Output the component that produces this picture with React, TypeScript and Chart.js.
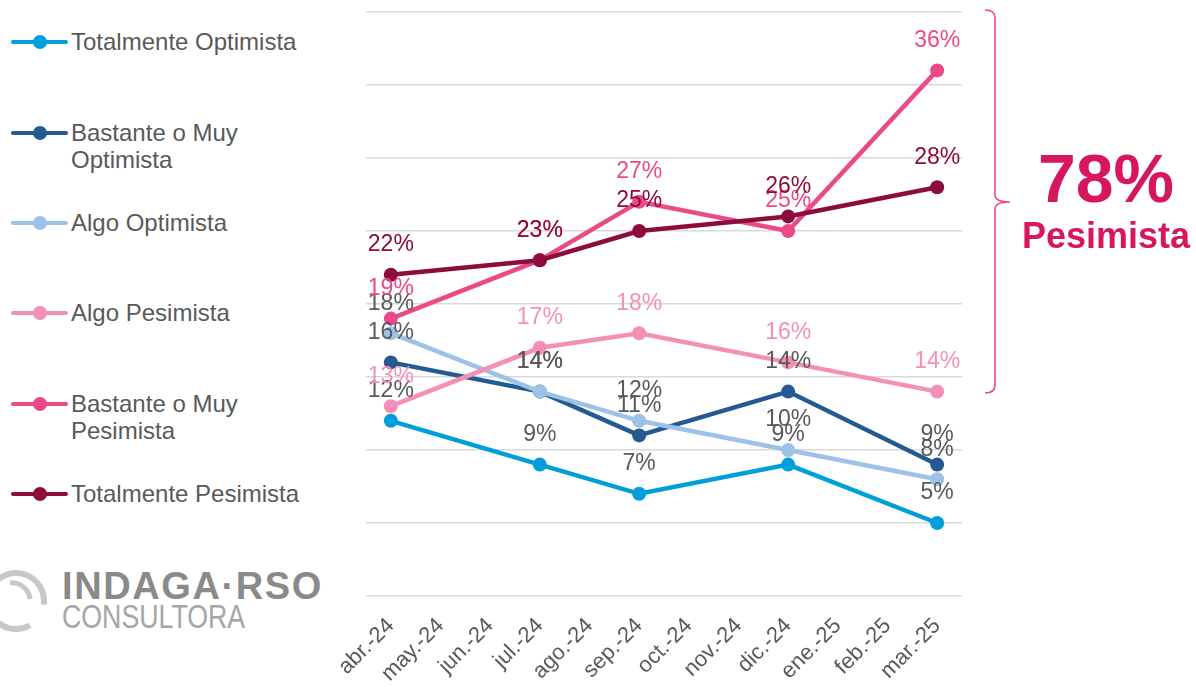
import React, { useEffect, useRef } from "react";
import { Chart, registerables } from "chart.js";

Chart.register(...registerables);

const months = ["abr.-24", "may.-24", "jun.-24", "jul.-24", "ago.-24", "sep.-24", "oct.-24", "nov.-24", "dic.-24", "ene.-25", "feb.-25", "mar.-25"];

const totalmenteOptimista = [12, null, null, 9, null, 7, null, null, 9, null, null, 5];
const bastanteOptimista = [16, null, null, 14, null, 11, null, null, 14, null, null, 9];
const algoOptimista = [18, null, null, 14, null, 12, null, null, 10, null, null, 8];
const algoPesimista = [13, null, null, 17, null, 18, null, null, 16, null, null, 14];
const bastantePesimista = [19, null, null, 23, null, 27, null, null, 25, null, null, 36];
const totalmentePesimista = [22, null, null, 23, null, 25, null, null, 26, null, null, 28];

const seriesNames = ["Totalmente Optimista", "Bastante o Muy Optimista", "Algo Optimista", "Algo Pesimista", "Bastante o Muy Pesimista", "Totalmente Pesimista"];
const seriesColors = ["#009fdb", "#245a91", "#9cc2e8", "#f490b7", "#ec4988", "#8c0c3d"];
const labelColors = ["#595959", "#595959", "#595959", "#f490b7", "#ec4988", "#8c0c3d"];
const seriesData = [totalmenteOptimista, bastanteOptimista, algoOptimista, algoPesimista, bastantePesimista, totalmentePesimista];

const legendLines = [["Totalmente Optimista"], ["Bastante o Muy", "Optimista"], ["Algo Optimista"], ["Algo Pesimista"], ["Bastante o Muy", "Pesimista"], ["Totalmente Pesimista"]];
const legendY = [42, 133, 223, 313, 404, 494];

const FONT = "'Liberation Sans', Arial, sans-serif";

const labelPlugin = {
  id: "pointLabels",
  afterDatasetsDraw(chart: any) {
    const ctx = chart.ctx;
    ctx.save();
    ctx.font = `23px ${FONT}`;
    ctx.textAlign = "center";
    ctx.textBaseline = "middle";
    chart.data.datasets.forEach((ds: any, i: number) => {
      const meta = chart.getDatasetMeta(i);
      meta.data.forEach((pt: any, j: number) => {
        const v = ds.data[j];
        if (v === null || v === undefined) return;
        ctx.fillStyle = labelColors[i];
        ctx.fillText(`${v}%`, pt.x, pt.y - 30);
      });
    });
    ctx.restore();
  },
};

function LegendItem({ idx }: { idx: number }) {
  const lines = legendLines[idx];
  return (
    <div style={{ position: "absolute", left: 0, top: legendY[idx] - 14, height: 60 }}>
      <svg width={70} height={28} style={{ position: "absolute", left: 0, top: 0 }}>
        <line x1={13} y1={14} x2={66} y2={14} stroke={seriesColors[idx]} strokeWidth={4} strokeLinecap="round" />
        <circle cx={40} cy={14} r={7} fill={seriesColors[idx]} />
      </svg>
      <div style={{ position: "absolute", left: 71, top: 0, fontFamily: FONT, fontSize: 24, lineHeight: "27px", color: "#595959", whiteSpace: "nowrap" }}>
        {lines.map((l, k) => (
          <div key={k}>{l}</div>
        ))}
      </div>
    </div>
  );
}

export default function App() {
  const canvasRef = useRef<HTMLCanvasElement>(null);

  useEffect(() => {
    if (!canvasRef.current) return;
    const chart = new Chart(canvasRef.current, {
      type: "line",
      data: {
        labels: months,
        datasets: seriesNames.map((name, i) => ({
          label: name,
          data: seriesData[i],
          borderColor: seriesColors[i],
          backgroundColor: seriesColors[i],
          borderWidth: 4.5,
          pointRadius: 7,
          pointHoverRadius: 7,
          pointBorderWidth: 0,
          spanGaps: true,
          tension: 0,
          order: 6 - i,
        })),
      },
      options: {
        animation: false,
        responsive: false,
        maintainAspectRatio: false,
        layout: { padding: { left: 26, right: 18, top: 12, bottom: 0 } },
        plugins: { legend: { display: false }, tooltip: { enabled: false } },
        scales: {
          x: {
            offset: true,
            grid: { display: false },
            border: { display: false },
            afterFit: (axis: any) => {
              axis.height = 91;
              axis.paddingLeft = 0;
              axis.paddingRight = 0;
            },
            ticks: {
              autoSkip: false,
              minRotation: 45,
              maxRotation: 45,
              color: "#595959",
              font: { family: FONT, size: 22 },
              padding: 9,
            },
          },
          y: {
            min: 0,
            max: 40,
            border: { display: false },
            grid: { color: "#d9d9d9", lineWidth: 1.5, drawTicks: false },
            ticks: { display: false, stepSize: 5 },
          },
        },
      },
      plugins: [labelPlugin],
    });
    return () => chart.destroy();
  }, []);

  return (
    <div style={{ position: "absolute", left: 0, top: 0, width: 1196, height: 687, background: "#fff", overflow: "hidden" }}>
      {legendY.map((_, i) => (
        <LegendItem key={i} idx={i} />
      ))}
      <canvas ref={canvasRef} width={640} height={687} style={{ position: "absolute", left: 340, top: 0 }} />
      <svg width={60} height={420} style={{ position: "absolute", left: 975, top: 0 }}>
        <path d="M10 10 Q20 10 20 18 L20 195 Q20 202 35 202 Q20 202 20 209 L20 385 Q20 393 10 393" fill="none" stroke="#ec4988" strokeWidth={1.6} />
      </svg>
      <div style={{ position: "absolute", left: 1010, top: 138, width: 192, textAlign: "center", fontFamily: FONT, fontWeight: 700, color: "#d6175f" }}>
        <div style={{ fontSize: 68, lineHeight: "80px" }}>78%</div>
        <div style={{ fontSize: 36, lineHeight: "40px", marginTop: -2 }}>Pesimista</div>
      </div>
      <svg width={70} height={80} style={{ position: "absolute", left: -20, top: 565 }}>
        <circle cx={36} cy={36} r={28} fill="none" stroke="#c8c8c8" strokeWidth={6} strokeDasharray="150 26" transform="rotate(60 36 36)" />
        <path d="M30 18 A18 18 0 0 1 50 34" fill="none" stroke="#c8c8c8" strokeWidth={5} />
      </svg>
      <div style={{ position: "absolute", left: 62, top: 565, fontFamily: FONT, fontWeight: 700, fontSize: 38, color: "#8a8a8a", lineHeight: "42px", letterSpacing: 1.6 }}>
        INDAGA·RSO
      </div>
      <div style={{ position: "absolute", left: 62, top: 600, fontFamily: FONT, fontSize: 33, color: "#a6a6a6", lineHeight: "34px", transform: "scaleX(0.81)", transformOrigin: "left top", whiteSpace: "nowrap" }}>
        CONSULTORA
      </div>
    </div>
  );
}
